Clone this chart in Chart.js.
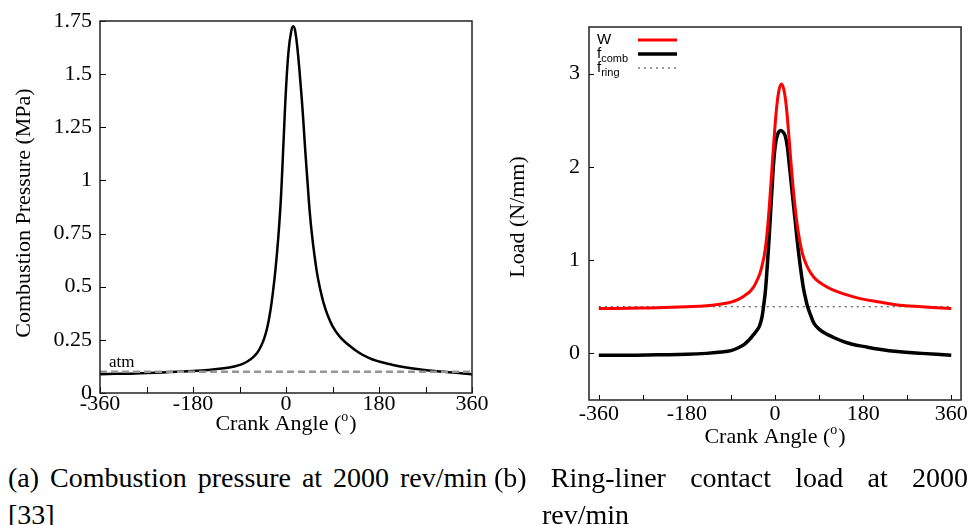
<!DOCTYPE html>
<html>
<head>
<meta charset="utf-8">
<script src="https://cdn.jsdelivr.net/npm/chart.js@4.4.0/dist/chart.umd.min.js"></script>
<style>
  html, body { margin: 0; padding: 0; background: #fff; }
  body { width: 971px; height: 525px; position: relative; overflow: hidden; font-family: 'Liberation Serif', serif; color: #000; }
  .panel { position: absolute; top: 0; height: 450px; }
  #pressurePanel { left: 0; width: 492px; }
  #loadPanel { left: 490px; width: 481px; }
  .cap { position: absolute; top: 459px; font-size: 28px; line-height: 37px; white-space: nowrap; }
  .cap .row { display: flex; justify-content: space-between; }
</style>
</head>
<body>
<div class="panel" id="pressurePanel"><canvas id="pressureChart"></canvas></div>
<div class="panel" id="loadPanel"><canvas id="loadChart"></canvas></div>

<div class="cap" style="left:8px; width:479px;">
  <div class="row"><span>(a)</span><span>Combustion</span><span>pressure</span><span>at</span><span>2000</span><span>rev/min</span></div>
  <div>[33]</div>
</div>
<div class="cap" style="left:494px; width:474px;">
  <div class="row"><span>(b)</span><span>Ring-liner</span><span>contact</span><span>load</span><span>at</span><span>2000</span></div>
  <div style="padding-left:48px;">rev/min</div>
</div>

<script>
// crank angle axis, shared by both panels
const angleTicks = [-360, -270, -180, -90, 0, 90, 180, 270, 360];
const angleLabels = ['-360', '', '-180', '', '0', '', '180', '', '360'];

// panel (a) - combustion pressure (MPa)
const pressureTicks = [0, 0.25, 0.5, 0.75, 1, 1.25, 1.5, 1.75];
const pressureLabels = ['0', '0.25', '0.5', '0.75', '1', '1.25', '1.5', '1.75'];
const pressureAngle = [-360, -330, -300, -270, -240, -210, -180, -150, -120, -100, -85, -75, -65, -55, -48, -42, -36, -30, -25, -20, -15, -10, -5, 0, 5, 10, 14, 18, 23, 28, 33, 37, 42, 46, 50, 55, 60, 66, 72, 80, 90, 104, 120, 140, 160, 180, 200, 230, 260, 300, 330, 360];
const pressureValue = [0.088, 0.090, 0.091, 0.094, 0.097, 0.100, 0.103, 0.108, 0.116, 0.125, 0.136, 0.148, 0.165, 0.192, 0.222, 0.258, 0.310, 0.390, 0.480, 0.590, 0.730, 0.910, 1.170, 1.430, 1.610, 1.700, 1.725, 1.700, 1.600, 1.460, 1.300, 1.150, 0.980, 0.850, 0.750, 0.650, 0.565, 0.490, 0.430, 0.370, 0.315, 0.265, 0.228, 0.192, 0.165, 0.148, 0.136, 0.121, 0.111, 0.101, 0.095, 0.087];
const atmAngle = [-360, 360];
const atmValue = [0.1, 0.1];

// panel (b) - ring-liner contact load (N/mm)
const loadTicks = [0, 1, 2, 3];
const loadLabels = ['0', '1', '2', '3'];
const wAngle = [-360, -300, -240, -180, -140, -110, -90, -75, -62, -52, -44, -38, -32, -27, -22, -18, -14, -10, -6, -2, 3, 8, 13, 18, 23, 28, 33, 38, 44, 50, 56, 64, 72, 84, 100, 118, 145, 172, 213, 250, 300, 360];
const wLoad = [0.48, 0.485, 0.49, 0.50, 0.51, 0.53, 0.55, 0.58, 0.62, 0.66, 0.71, 0.77, 0.84, 0.93, 1.05, 1.20, 1.42, 1.70, 2.00, 2.30, 2.62, 2.82, 2.89, 2.83, 2.65, 2.35, 2.02, 1.72, 1.43, 1.22, 1.07, 0.95, 0.87, 0.79, 0.73, 0.68, 0.63, 0.59, 0.55, 0.52, 0.50, 0.48];
const combAngle = [-360, -300, -240, -180, -140, -110, -90, -75, -62, -52, -44, -38, -32, -27, -23, -20, -17, -14, -11, -8, -5, -2, 2, 7, 12, 17, 21, 25, 30, 34, 38, 42, 46, 50, 54, 58, 62, 66, 72, 80, 90, 104, 118, 140, 160, 180, 213, 250, 300, 360];
const combLoad = [-0.02, -0.02, -0.015, -0.01, 0.0, 0.015, 0.03, 0.06, 0.10, 0.15, 0.20, 0.24, 0.29, 0.38, 0.52, 0.65, 0.85, 1.08, 1.33, 1.60, 1.87, 2.10, 2.28, 2.37, 2.39, 2.37, 2.33, 2.22, 1.98, 1.78, 1.58, 1.38, 1.18, 1.00, 0.84, 0.70, 0.60, 0.51, 0.42, 0.32, 0.26, 0.21, 0.175, 0.125, 0.095, 0.075, 0.045, 0.02, 0.0, -0.02];
const ringAngle = [-360, 360];
const ringLoad = [0.5, 0.5];

const serif = "'Liberation Serif', serif";
const sans = "'Liberation Sans', sans-serif";
const pts = (xs, ys) => xs.map((x, i) => ({ x: x, y: ys[i] }));

// frame, inward tick marks and axis titles
const panelDecor = {
    id: 'panelDecor',
    afterDraw(chart, args, o) {
        const { ctx, chartArea: a, scales: { x, y } } = chart;
        ctx.save();
        ctx.strokeStyle = '#000';
        ctx.lineWidth = 1;
        x.ticks.forEach(t => {
            const px = Math.round(x.getPixelForValue(t.value)) + 0.5;
            ctx.beginPath();
            ctx.moveTo(px, a.bottom);
            ctx.lineTo(px, a.bottom - o.tickLen);
            ctx.stroke();
        });
        y.ticks.forEach(t => {
            const py = Math.round(y.getPixelForValue(t.value)) + 0.5;
            ctx.beginPath();
            ctx.moveTo(a.left, py);
            ctx.lineTo(a.left + o.tickLen, py);
            ctx.stroke();
        });
        ctx.lineWidth = 1.5;
        ctx.strokeStyle = '#222';
        ctx.strokeRect(a.left, a.top, a.right - a.left, a.bottom - a.top);

        // x title with superscript o
        ctx.fillStyle = '#000';
        ctx.textAlign = 'left';
        ctx.textBaseline = 'alphabetic';
        const big = '22px ' + serif, small = '14px ' + serif;
        ctx.font = big;
        const w1 = ctx.measureText('Crank Angle (').width;
        const w3 = ctx.measureText(')').width;
        ctx.font = small;
        const w2 = ctx.measureText('o').width + 1;
        let sx = (a.left + a.right) / 2 - (w1 + w2 + w3) / 2;
        ctx.font = big;
        ctx.fillText('Crank Angle (', sx, o.xTitleY);
        ctx.fillText(')', sx + w1 + w2, o.xTitleY);
        ctx.font = small;
        ctx.fillText('o', sx + w1, o.xTitleY - 9);

        // y title
        ctx.font = big;
        ctx.textAlign = 'center';
        ctx.textBaseline = 'middle';
        ctx.translate(o.yTitleX, o.yTitleY);
        ctx.rotate(-Math.PI / 2);
        ctx.fillText(o.yTitle, 0, 0);
        ctx.restore();

        if (o.note) {
            ctx.save();
            ctx.font = '17px ' + serif;
            ctx.fillStyle = '#000';
            ctx.textAlign = 'left';
            ctx.fillText(o.note, a.left + 9, y.getPixelForValue(o.noteAt) - 5);
            ctx.restore();
        }
    }
};

// legend in the top-left corner of panel (b), with subscripts
const loadLegend = {
    id: 'loadLegend',
    afterDraw(chart) {
        const { ctx, chartArea: a } = chart;
        ctx.save();
        chart.data.datasets.forEach((ds, i) => {
            const ly = a.top + 13 + i * 14;
            ctx.fillStyle = '#000';
            ctx.textAlign = 'left';
            ctx.textBaseline = 'alphabetic';
            ctx.font = '15px ' + sans;
            ctx.fillText(ds.label, a.left + 8, ly + 4);
            if (ds.sub) {
                const fw = ctx.measureText(ds.label).width;
                ctx.font = '11px ' + sans;
                ctx.fillText(ds.sub, a.left + 8 + fw, ly + 7.5);
            }
            ctx.strokeStyle = ds.borderColor;
            ctx.lineWidth = ds.borderWidth;
            ctx.setLineDash(ds.borderDash || []);
            ctx.beginPath();
            ctx.moveTo(a.left + 49, ly);
            ctx.lineTo(a.left + 88, ly);
            ctx.stroke();
        });
        ctx.restore();
    }
};

function angleAxis(min, max, pad) {
    return {
        type: 'linear',
        min: min,
        max: max,
        afterBuildTicks: s => { s.ticks = angleTicks.map(v => ({ value: v })); },
        afterFit: s => { s.height = pad.h; },
        grid: { display: false, drawTicks: false },
        border: { display: false },
        ticks: {
            autoSkip: false,
            maxRotation: 0,
            padding: pad.p,
            color: '#000',
            font: { family: serif, size: 22, lineHeight: 1 },
            callback: (v, i) => angleLabels[i]
        }
    };
}

function valueAxis(min, max, ticks, labels, width, padding) {
    return {
        type: 'linear',
        min: min,
        max: max,
        afterBuildTicks: s => { s.ticks = ticks.map(v => ({ value: v })); },
        afterFit: s => { s.width = width; },
        grid: { display: false, drawTicks: false },
        border: { display: false },
        ticks: {
            padding: padding,
            color: '#000',
            font: { family: serif, size: 22, lineHeight: 1 },
            callback: (v, i) => labels[i]
        }
    };
}

new Chart(document.getElementById('pressureChart'), {
    type: 'scatter',
    data: {
        datasets: [
            {
                label: 'atm',
                data: pts(atmAngle, atmValue),
                showLine: true,
                borderColor: 'rgb(150, 150, 150)',
                borderWidth: 2.5,
                borderDash: [7, 4],
                pointRadius: 0
            },
            {
                label: 'Combustion pressure',
                data: pts(pressureAngle, pressureValue),
                showLine: true,
                borderColor: '#000',
                borderWidth: 2.5,
                tension: 0.4,
                pointRadius: 0
            }
        ]
    },
    options: {
        responsive: true,
        maintainAspectRatio: false,
        animation: false,
        layout: { padding: { left: 0, top: 21, right: 20, bottom: 0 } },
        plugins: {
            legend: { display: false },
            tooltip: { enabled: false },
            panelDecor: { tickLen: 6, xTitleY: 430, yTitleX: 24, yTitleY: 213, yTitle: 'Combustion Pressure (MPa)', note: 'atm', noteAt: 0.1 }
        },
        scales: {
            x: angleAxis(-360, 360, { h: 57, p: 0 }),
            y: valueAxis(0, 1.75, pressureTicks, pressureLabels, 100, 8)
        }
    },
    plugins: [panelDecor]
});

new Chart(document.getElementById('loadChart'), {
    type: 'scatter',
    data: {
        datasets: [
            {
                label: 'W',
                data: pts(wAngle, wLoad),
                showLine: true,
                borderColor: '#ff0000',
                borderWidth: 3,
                tension: 0.4,
                pointRadius: 0
            },
            {
                label: 'f',
                sub: 'comb',
                data: pts(combAngle, combLoad),
                showLine: true,
                borderColor: '#000',
                borderWidth: 3.5,
                tension: 0.4,
                pointRadius: 0
            },
            {
                label: 'f',
                sub: 'ring',
                data: pts(ringAngle, ringLoad),
                showLine: true,
                borderColor: '#333',
                borderWidth: 1,
                borderDash: [2, 4],
                pointRadius: 0
            }
        ]
    },
    options: {
        responsive: true,
        maintainAspectRatio: false,
        animation: false,
        layout: { padding: { left: 0, top: 27, right: 9, bottom: 0 } },
        plugins: {
            legend: { display: false },
            tooltip: { enabled: false },
            panelDecor: { tickLen: 5, xTitleY: 443, yTitleX: 28, yTitleY: 217, yTitle: 'Load (N/mm)' }
        },
        scales: {
            x: angleAxis(-380, 380, { h: 50, p: 3 }),
            y: valueAxis(-0.5, 3.5, loadTicks, loadLabels, 99, 9)
        }
    },
    plugins: [panelDecor, loadLegend]
});
</script>
</body>
</html>
